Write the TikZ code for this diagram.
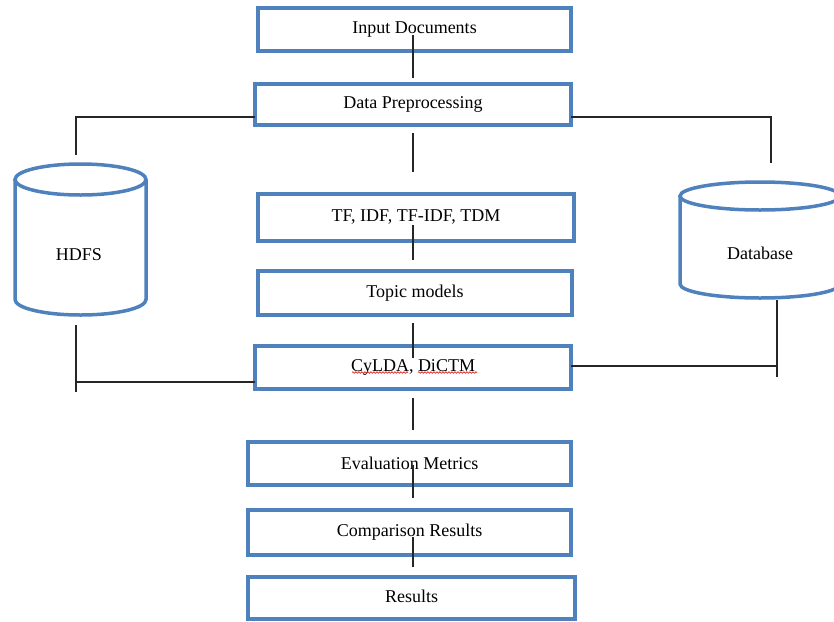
\documentclass[tikz,border=0pt]{standalone}
\usepackage{fontspec}
\setmainfont{Liberation Serif}
\usetikzlibrary{calc,decorations.pathmorphing}
\definecolor{boxblue}{RGB}{79,129,189}
\begin{document}
\begin{tikzpicture}[x=1pt,y=-1pt,
  stepbox/.style={draw=boxblue,line width=3.5pt,fill=white,inner sep=0pt,outer sep=0pt,font=\fontsize{18}{21}\selectfont},
  dbshape/.style={draw=boxblue,line width=3.5pt},
  dblabel/.style={inner sep=0pt,font=\fontsize{18}{21}\selectfont},
  link/.style={draw=black!85,line width=1.1pt},
  squig/.style={draw=red!85!black,line width=0.6pt,decorate,decoration={snake,amplitude=0.8pt,segment length=3pt}}]
\useasboundingbox (0,0) rectangle (834,621);

% process boxes
\node[stepbox,minimum width=313pt,minimum height=43pt] (in) at (414.5,29.5) {Input Documents};
\node[stepbox,minimum width=316pt,minimum height=41pt] (dp) at (413,104.5) {Data Preprocessing};
\node[stepbox,minimum width=316pt,minimum height=47pt] (tf) at (416,217.5) {\raisebox{4pt}{TF, IDF, TF-IDF, TDM}};
\node[stepbox,minimum width=314pt,minimum height=44pt] (tm) at (415,293) {\raisebox{2pt}{Topic models}};
\node[stepbox,minimum width=316pt,minimum height=43pt] (cy) at (413,367.5) {\raisebox{3pt}{CyLDA, DiCTM}};
\node[stepbox,minimum width=323pt,minimum height=43pt] (em) at (409.5,463.5) {\raisebox{1pt}{Evaluation Metrics}};
\node[stepbox,minimum width=323pt,minimum height=45pt] (cr) at (409.5,532.5) {\raisebox{4pt}{Comparison Results}};
\node[stepbox,minimum width=327pt,minimum height=42pt] (res) at (411.5,598) {\raisebox{3pt}{Results}};

% spell-check squiggles
\draw[squig] ($(cy.center)+(-61,5)$) -- ($(cy.center)+(-5,5)$);
\draw[squig] ($(cy.center)+(5,5)$) -- ($(cy.center)+(64,5)$);

% cylinders
\draw[dbshape] (15,179.5) -- (15,299.5) arc[start angle=180,end angle=0,x radius=65.5,y radius=15.5] -- (146,179.5);
\draw[dbshape] (80.5,179.5) ellipse[x radius=65.5,y radius=15.5];
\node[dblabel] (hdfs) at (79,255) {HDFS};

\draw[dbshape] (680,196) -- (680,284) arc[start angle=180,end angle=0,x radius=80,y radius=14] -- (840,196);
\draw[dbshape] (760,196) ellipse[x radius=80,y radius=14];
\node[dblabel] (db) at (760,253) {Database};

% free ends near cylinders
\coordinate (hdtop) at (76,155);
\coordinate (hdbot) at (76,325);
\coordinate (hdend) at (76,392);
\coordinate (dbtop) at (771,163);
\coordinate (dbbot) at (777,300);
\coordinate (dbend) at (777,377);

% vertical flow connectors
\draw[link] ($(in.south)+(-1.5,-16)$) -- ($(dp.north)+(0,-6)$);
\draw[link] ($(dp.south)+(0,8)$) -- ($(tf.north)+(-3,-22)$);
\draw[link] ($(tf.south)+(-3,-16)$) -- ($(tm.north)+(-2,-11)$);
\draw[link] ($(tm.south)+(-2,8)$) -- ($(cy.north)+(0,12)$);
\draw[link] ($(cy.south)+(0,9)$) -- ($(em.north)+(3.5,-12)$);
\draw[link] ($(em.south)+(3.5,-20)$) -- ($(cr.north)+(3.5,-12)$);
\draw[link] ($(cr.south)+(3.5,-18)$) -- ($(res.north)+(1.5,-10)$);

% side connectors
\draw[link] ($(dp.south west)+(0,-8)$) -| (hdtop);
\draw[link] ($(dp.south east)+(0,-8)$) -| (dbtop);
\draw[link] (hdbot) -- (hdend);
\draw[link] ($(cy.south west)+(0,-7)$) coordinate (cl) -- (cl -| hdbot);
\draw[link] (dbbot) -- (dbend);
\draw[link] ($(cy.east)+(0,-1.5)$) coordinate (cr0) -- (cr0 -| dbbot);
\end{tikzpicture}
\end{document}
